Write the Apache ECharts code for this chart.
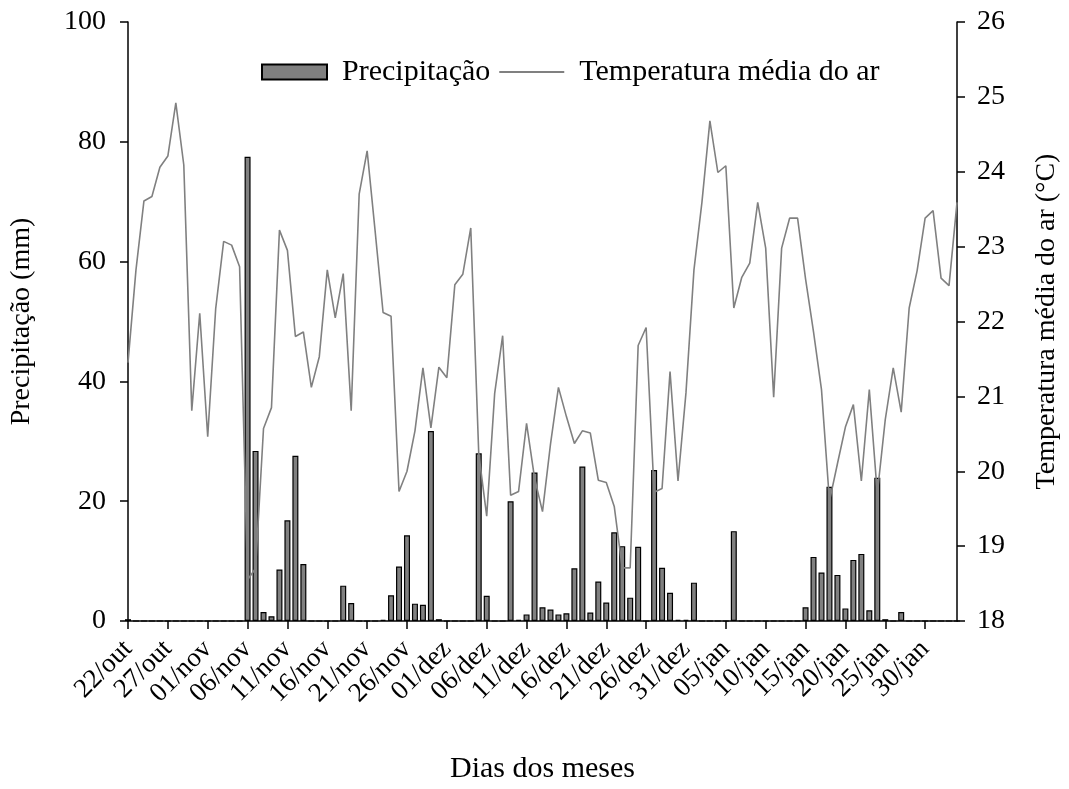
<!DOCTYPE html>
<html>
<head>
<meta charset="utf-8">
<script src="https://cdn.jsdelivr.net/npm/echarts@6/dist/echarts.min.js"></script>
<style>
html,body{margin:0;padding:0;background:#fff;overflow:hidden;}
#chart{width:1069px;height:789px;}
</style>
</head>
<body>
<div id="chart"></div>
<script>
// Days from 22/out to 03/fev
const days = [
 '22/out','23/out','24/out','25/out','26/out','27/out','28/out','29/out','30/out','31/out',
 '01/nov','02/nov','03/nov','04/nov','05/nov','06/nov','07/nov','08/nov','09/nov','10/nov',
 '11/nov','12/nov','13/nov','14/nov','15/nov','16/nov','17/nov','18/nov','19/nov','20/nov',
 '21/nov','22/nov','23/nov','24/nov','25/nov','26/nov','27/nov','28/nov','29/nov','30/nov',
 '01/dez','02/dez','03/dez','04/dez','05/dez','06/dez','07/dez','08/dez','09/dez','10/dez',
 '11/dez','12/dez','13/dez','14/dez','15/dez','16/dez','17/dez','18/dez','19/dez','20/dez',
 '21/dez','22/dez','23/dez','24/dez','25/dez','26/dez','27/dez','28/dez','29/dez','30/dez',
 '31/dez','01/jan','02/jan','03/jan','04/jan','05/jan','06/jan','07/jan','08/jan','09/jan',
 '10/jan','11/jan','12/jan','13/jan','14/jan','15/jan','16/jan','17/jan','18/jan','19/jan',
 '20/jan','21/jan','22/jan','23/jan','24/jan','25/jan','26/jan','27/jan','28/jan','29/jan',
 '30/jan','31/jan','01/fev','02/fev','03/fev'
];

// Precipitação (mm)
const precipitacao = [
 0.3,0,0,0,0,0,0,0,0,0,
 0,0,0,0,0,77.5,28.4,1.5,0.8,8.6,
 16.8,27.6,9.5,0,0,0,0,5.9,3.0,0,
 0,0,0.2,4.3,9.1,14.3,2.9,2.7,31.7,0.3,
 0,0,0,0,28.0,4.2,0,0,20.0,0.2,
 1.1,24.8,2.3,1.9,1.1,1.3,8.8,25.8,1.4,6.6,
 3.1,14.8,12.5,3.9,12.4,0,25.2,8.9,4.7,0.2,
 0.2,6.4,0,0,0,0,15.0,0,0,0,
 0,0,0,0,0,2.3,10.7,8.1,22.4,7.7,
 2.1,10.2,11.2,1.8,23.9,0.3,0,1.5,0,0,
 0,0,0,0,0
];

// Temperatura média do ar (°C)
const temperatura = [
 21.45,22.69,23.61,23.67,24.06,24.21,24.92,24.09,20.81,22.11,
 20.46,22.17,23.07,23.02,22.73,18.55,18.70,20.57,20.85,23.22,
 22.95,21.80,21.86,21.12,21.53,22.69,22.05,22.64,20.81,23.70,
 24.28,23.21,22.12,22.07,19.73,20.00,20.54,21.38,20.58,21.39,
 21.25,22.49,22.63,23.25,20.24,19.40,21.04,21.81,19.68,19.73,
 20.64,19.91,19.46,20.36,21.12,20.73,20.37,20.54,20.51,19.88,
 19.85,19.53,18.71,18.71,21.68,21.92,19.72,19.77,21.33,19.87,
 21.05,22.69,23.59,24.68,23.99,24.08,22.18,22.59,22.78,23.59,
 22.98,20.99,22.98,23.38,23.38,22.57,21.86,21.09,19.60,20.10,
 20.59,20.89,19.87,21.09,19.70,20.69,21.38,20.79,22.18,22.68,
 23.38,23.48,22.58,22.48,23.59
];

const leftTicks = [0, 20, 40, 60, 80, 100];
const rightTicks = [18, 19, 20, 21, 22, 23, 24, 25, 26];

const FONT = '"Liberation Serif", "DejaVu Serif", serif';
const chart = echarts.init(document.getElementById('chart'), null, {renderer: 'canvas', width: 1069, height: 789});

chart.setOption({
  animation: false,
  backgroundColor: '#ffffff',
  textStyle: {fontFamily: FONT, color: '#000'},
  grid: {left: 124, top: 22, width: 840, height: 608, containLabel: false},
  legend: {
    top: 52,
    left: 256,
    itemWidth: 65,
    itemHeight: 15,
    itemGap: 8,
    textStyle: {fontFamily: FONT, fontSize: 30, color: '#000', padding: [0, 10, 0, 10]},
    data: [
      {name: 'Precipitação', icon: 'rect'},
      {name: 'Temperatura média do ar', itemStyle: {opacity: 0}}
    ]
  },
  xAxis: {
    type: 'category',
    data: days,
    boundaryGap: false,
    name: 'Dias dos meses',
    nameLocation: 'middle',
    nameGap: 133,
    nameTextStyle: {fontFamily: FONT, fontSize: 30, color: '#000'},
    axisLine: {lineStyle: {color: '#000', width: 1.5}},
    axisTick: {interval: 4, length: 8, lineStyle: {color: '#000', width: 1.5}},
    axisLabel: {interval: 4, rotate: 45, fontFamily: FONT, fontSize: 27, color: '#000', margin: 24},
    splitLine: {show: false}
  },
  yAxis: [
    {
      type: 'value',
      min: leftTicks[0],
      max: leftTicks[leftTicks.length - 1],
      interval: 20,
      name: 'Precipitação (mm)',
      nameLocation: 'middle',
      nameGap: 92,
      nameRotate: 90,
      nameTextStyle: {fontFamily: FONT, fontSize: 28, color: '#000'},
      axisLine: {show: true, lineStyle: {color: '#000', width: 1.5}},
      axisTick: {show: true, length: 8, lineStyle: {color: '#000', width: 1.5}},
      axisLabel: {fontFamily: FONT, fontSize: 28, color: '#000', margin: 22},
      splitLine: {show: false}
    },
    {
      type: 'value',
      min: rightTicks[0],
      max: rightTicks[rightTicks.length - 1],
      interval: 1,
      position: 'right',
      name: 'Temperatura média do ar (°C)',
      nameLocation: 'middle',
      nameGap: 76,
      nameRotate: 90,
      nameTextStyle: {fontFamily: FONT, fontSize: 28, color: '#000'},
      axisLine: {show: true, lineStyle: {color: '#000', width: 1.5}},
      axisTick: {show: true, length: 8, lineStyle: {color: '#000', width: 1.5}},
      axisLabel: {fontFamily: FONT, fontSize: 28, color: '#000', margin: 20},
      splitLine: {show: false}
    }
  ],
  series: [
    {
      name: 'Precipitação',
      type: 'bar',
      yAxisIndex: 0,
      data: precipitacao,
      barWidth: 6,
      itemStyle: {color: '#808080', borderColor: '#000', borderWidth: 1.2}
    },
    {
      name: 'Temperatura média do ar',
      type: 'line',
      yAxisIndex: 1,
      data: temperatura,
      symbol: 'none',
      lineStyle: {color: '#808080', width: 1.6},
      itemStyle: {color: '#808080'},
      z: 3
    }
  ]
});
</script>
</body>
</html>
